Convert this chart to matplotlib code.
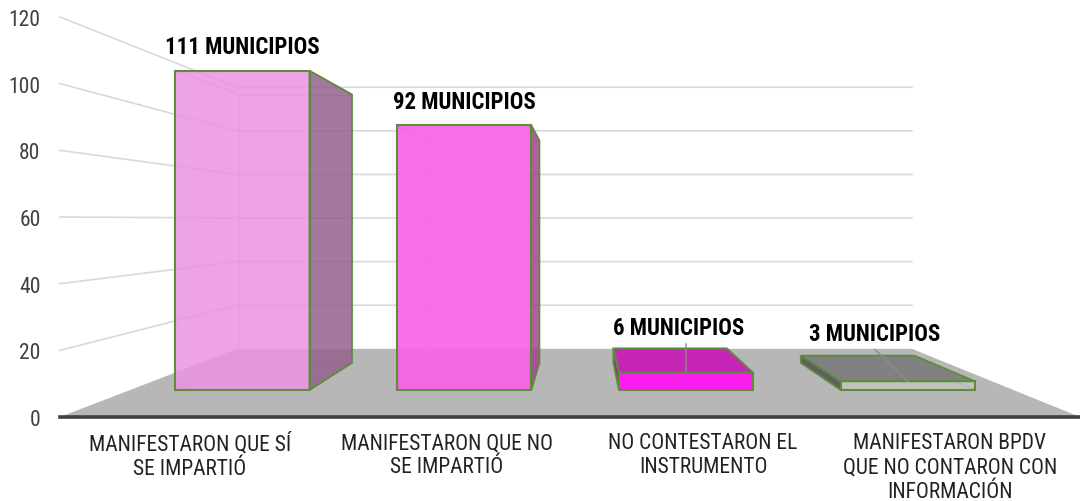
import matplotlib
matplotlib.use("Agg")
import matplotlib.pyplot as plt
from matplotlib.patches import Polygon
from matplotlib import font_manager as fm

# ---- data ----
categories = ["MANIFESTARON QUE SÍ\nSE IMPARTIÓ",
              "MANIFESTARON QUE NO\nSE IMPARTIÓ",
              "NO CONTESTARON EL\nINSTRUMENTO",
              "MANIFESTARON BPDV\nQUE NO CONTARON CON\nINFORMACIÓN"]
values = [111, 92, 6, 3]
labels = ["111 MUNICIPIOS", "92 MUNICIPIOS", "6 MUNICIPIOS", "3 MUNICIPIOS"]
y_ticks = [0, 20, 40, 60, 80, 100, 120]

# ---- styles ----
front_colors = ["#EC93E2", "#FA62E6", "#FF18F2", "#D4DAD0"]
side_colors = ["#96608C", "#A83E98", "#8A1A80", "#505050"]
top_colors = ["none", "none", "#C61EB6", "#7E7E7E"]
front_alpha = [0.85, 0.92, 0.97, 0.35]
label_offsets = [(0, 24), (0, 24), (-7, 45), (-33, 48)]
leader_starts = [None, None, (0, 29), (-33, 32)]
tick_shift = [0.01, 0.018, 0.022, -0.01]
GREEN = "#5E8C3C"

W, H = 1080, 502
names = {f.name for f in fm.fontManager.ttflist}
chosen = next((n for n in ["Liberation Sans Narrow", "Roboto Condensed", "Roboto"] if n in names),
              "Liberation Sans")
plt.rcParams["font.family"] = [chosen, "Liberation Sans", "DejaVu Sans"]

fig = plt.figure(figsize=(W / 100, H / 100), dpi=100, facecolor="white")
ax = fig.add_axes([60 / W, (H - 418) / H, 1020 / W, 400 / H])
ax.set_xlim(-0.5, 3.5)
ax.set_ylim(0, 120)
ax.patch.set_visible(False)
for s in ("top", "left", "right"):
    ax.spines[s].set_visible(False)
ax.spines["bottom"].set_color("#3F3F3F")
ax.spines["bottom"].set_linewidth(2.6)
ax.spines["bottom"].set_zorder(3)

# ---- simple projection: t=0 front plane, t=1 back wall ----
BL, BR = 0.694, 0.659      # inward shift of the back wall (category units)
RISE, SHRINK = 20.45, 0.346


def proj(frac, v, t):
    left = -0.5 + BL * t
    right = 3.5 - BR * t
    return (left + frac * (right - left), RISE * t + v * (1 - SHRINK * t))


# floor
ax.add_patch(Polygon([proj(0, 0, 0), proj(1, 0, 0), proj(1, 0, 1), proj(0, 0, 1)],
                     closed=True, fc="#B7B7B7", ec="none", zorder=1, clip_on=False))
# gridlines: left wall + back wall
for v in y_ticks[1:]:
    pts = [proj(0, v, 0), proj(0, v, 1), proj(1, v, 1)]
    ax.plot(*zip(*pts), color="#D9D9D9", lw=1.2, zorder=1.5, clip_on=False,
            solid_joinstyle="miter")

T0, T1 = 0.397, 0.794
F0, STEP, FW = 0.051, 0.2512, 0.152
for i, v in enumerate(values):
    f0 = F0 + i * STEP
    f1 = f0 + FW
    a0, b0 = proj(f0, 0, T0), proj(f1, 0, T0)
    a1, b1 = proj(f0, v, T0), proj(f1, v, T0)
    c0, d0 = proj(f0, 0, T1), proj(f1, 0, T1)
    c1, d1 = proj(f0, v, T1), proj(f1, v, T1)
    z = 2 + i * 0.1
    faint = "#80808055"
    # interior (hidden) edges
    for face in ([c0, d0, d1, c1], [a0, c0], [b0, d0], [a1, c1], [b1, d1]):
        ax.add_patch(Polygon(face, closed=len(face) > 2, fc="none", ec=faint, lw=1.0,
                             zorder=z, clip_on=False))
    # side
    if d0[0] > b0[0]:
        side = [b0, d0, d1, b1]
        ax.add_patch(Polygon(side, closed=True, fc=side_colors[i], alpha=0.85, ec="none",
                             zorder=z + 0.01, clip_on=False))
        ax.add_patch(Polygon(side, closed=True, fc="none", ec=GREEN, lw=1.3,
                             zorder=z + 0.04, clip_on=False))
    if c0[0] < a0[0]:
        side = [a0, c0, c1, a1]
        ax.add_patch(Polygon(side, closed=True, fc=side_colors[i], alpha=0.85, ec="none",
                             zorder=z + 0.01, clip_on=False))
        ax.add_patch(Polygon(side, closed=True, fc="none", ec=GREEN, lw=1.3,
                             zorder=z + 0.04, clip_on=False))
    # top
    if c1[1] > a1[1]:
        top = [a1, b1, d1, c1]
        ax.add_patch(Polygon(top, closed=True, fc=top_colors[i], ec="none", alpha=0.95,
                             zorder=z + 0.02, clip_on=False))
        ax.add_patch(Polygon(top, closed=True, fc="none", ec=GREEN, lw=1.3,
                             zorder=z + 0.04, clip_on=False))
    # front
    front = [a0, b0, b1, a1]
    ax.add_patch(Polygon(front, closed=True, fc=front_colors[i], alpha=front_alpha[i], ec="none",
                         zorder=z + 0.03, clip_on=False))
    ax.add_patch(Polygon(front, closed=True, fc="none", ec=GREEN, lw=1.5,
                         zorder=z + 0.05, clip_on=False))
    # data label
    cx = (a1[0] + b1[0]) / 2
    ax.annotate(labels[i], xy=(cx, a1[1]), xytext=label_offsets[i], textcoords="offset pixels",
                ha="center", va="center", fontsize=16.4, fontweight="bold", color="black",
                zorder=6, annotation_clip=False)
    if leader_starts[i] is not None:
        ax.annotate("", xy=(cx, a1[1]), xytext=leader_starts[i], textcoords="offset pixels",
                    arrowprops=dict(arrowstyle="-", color="#8C8C8C", lw=1.0,
                                    shrinkA=0, shrinkB=0),
                    zorder=5, annotation_clip=False)

ax.set_yticks(y_ticks)
ax.set_xticks([k + d for k, d in enumerate(tick_shift)])
ax.set_xticklabels(categories, linespacing=1.2)
ax.tick_params(axis="y", length=0, pad=14, labelsize=15.5, labelcolor="#404040")
ax.tick_params(axis="x", length=0, pad=11, labelsize=15.5, labelcolor="#222222")

fig.savefig("out.png", dpi=100)
